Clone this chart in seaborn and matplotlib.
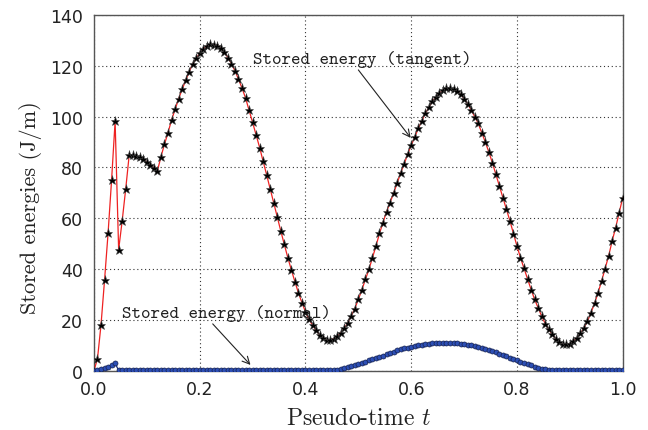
import numpy as np
import matplotlib
matplotlib.use("Agg")
import matplotlib.pyplot as plt
import seaborn as sns

# Pseudo-time samples
t = np.linspace(0.0, 1.0, 151)

# Stored energy, tangential component (J/m)
tangent = [
    0.0, 4.6, 18.0, 35.5, 54.0, 75.0, 98.2, 47.6, 58.9, 71.4,
    84.9, 84.7, 84.4, 83.9, 83.1, 82.1, 81.0, 79.8, 78.6, 84.1,
    89.1, 93.6, 98.6, 102.8, 106.9, 110.7, 114.2, 117.6, 120.7, 122.9,
    125.0, 126.6, 127.9, 128.4, 128.3, 127.9, 127.0, 125.3, 123.2, 120.8,
    118.0, 114.7, 111.2, 107.3, 102.5, 97.7, 92.7, 87.8, 82.3, 77.0,
    71.4, 66.0, 60.4, 54.9, 49.7, 44.4, 39.6, 35.0, 30.6, 26.7,
    23.1, 20.1, 17.9, 15.8, 14.1, 12.9, 12.2, 12.1, 12.5, 13.4,
    14.9, 16.6, 18.8, 21.6, 24.4, 28.0, 31.7, 35.9, 39.8, 44.4,
    49.0, 54.0, 58.2, 62.5, 66.1, 69.8, 73.7, 77.7, 81.3, 85.2,
    88.7, 91.9, 95.3, 98.3, 101.2, 103.6, 106.0, 107.6, 109.2, 110.4,
    111.1, 111.2, 110.8, 110.0, 108.8, 107.1, 105.0, 102.6, 100.0, 97.3,
    93.7, 90.0, 86.1, 81.9, 77.3, 72.7, 68.1, 63.5, 58.9, 53.9,
    49.0, 44.4, 40.2, 35.9, 31.9, 28.0, 24.7, 21.4, 18.5, 16.2,
    14.2, 12.5, 11.2, 10.5, 10.3, 10.6, 11.6, 12.9, 14.6, 16.8,
    19.4, 22.8, 26.4, 30.6, 35.2, 40.1, 45.1, 51.0, 56.3, 62.2,
    68.1,
]

# Stored energy, normal component (J/m)
normal = (
    [0.0, 0.3, 0.6, 1.0, 1.5, 2.0, 2.8]
    + [0.1] * 61
    + [0.2, 0.4, 0.7, 1.0, 1.4, 1.8, 2.2, 2.6, 3.0, 3.5,
       4.0, 4.5, 5.0, 5.4, 5.9, 6.4, 6.9, 7.4, 7.9, 8.3,
       8.7, 9.0, 9.3, 9.6, 9.9, 10.2, 10.4, 10.6, 10.7, 10.8,
       10.8, 10.9, 10.9, 10.8, 10.8, 10.7, 10.6, 10.4, 10.1, 9.9,
       9.5, 9.2, 8.8, 8.4, 8.0, 7.6, 7.1, 6.6, 6.1, 5.6,
       5.0, 4.6, 4.0, 3.5, 3.0, 2.5, 2.0, 1.5, 1.1, 0.7,
       0.5, 0.3, 0.2]
    + [0.1] * 20
)

x_ticks = [0.0, 0.2, 0.4, 0.6, 0.8, 1.0]
y_ticks = [0, 20, 40, 60, 80, 100, 120, 140]

sns.set_theme(style="white")
plt.rcParams["font.family"] = ["DejaVu Sans"]
plt.rcParams["mathtext.fontset"] = "cm"
plt.rcParams["axes.unicode_minus"] = False

fig = plt.figure(figsize=(6.48, 4.31), dpi=100)
ax = fig.add_axes([0.145, 0.138, 0.816, 0.825])

sns.lineplot(x=t, y=tangent, ax=ax, color="#ee2222", linewidth=0.9,
             marker="*", markersize=6.5, markerfacecolor="black",
             markeredgecolor="#444444", markeredgewidth=0.4, zorder=3)
sns.lineplot(x=t, y=normal, ax=ax, color="#1a2f80", linewidth=0.9,
             marker="o", markersize=3.6, markerfacecolor="#2d4fb5",
             markeredgecolor="#14204d", markeredgewidth=0.5, zorder=4)

ax.set_xlim(0, 1)
ax.set_ylim(0, 140)
ax.set_xticks(x_ticks)
ax.set_yticks(y_ticks)
ax.set_xticklabels([f"{v:.1f}" for v in x_ticks])
ax.set_yticklabels([str(v) for v in y_ticks])
ax.tick_params(axis="both", labelsize=12.5, length=0, colors="#222222")
ax.tick_params(axis="x", pad=7)
ax.tick_params(axis="y", pad=8)

ax.grid(True, color="#333333", linestyle=(0, (1, 2.5)), linewidth=0.8)
for s in ax.spines.values():
    s.set_color("#555555")
    s.set_linewidth(1.0)

ax.set_xlabel("Pseudo-time $t$", family="cmr10", fontsize=17,
              color="#222222", labelpad=6)
ax.set_ylabel("Stored energies (J/m)", family="cmr10", fontsize=16,
              color="#222222", labelpad=6)
ax.yaxis.label.set_y(0.46)

ax.annotate("Stored energy (tangent)", xy=(0.599, 91.6), xytext=(0.301, 123),
            family="cmtt10", fontsize=13, color="#222222", va="center",
            arrowprops=dict(arrowstyle="->", color="#222222", lw=0.8,
                            shrinkA=0, shrinkB=0, relpos=(0.47, 0.0)))
ax.annotate("Stored energy (normal)", xy=(0.296, 2.2), xytext=(0.053, 23),
            family="cmtt10", fontsize=13, color="#222222", va="center",
            arrowprops=dict(arrowstyle="->", color="#222222", lw=0.8,
                            shrinkA=0, shrinkB=0, relpos=(0.42, 0.0)))

fig.savefig("out.png", dpi=100)
